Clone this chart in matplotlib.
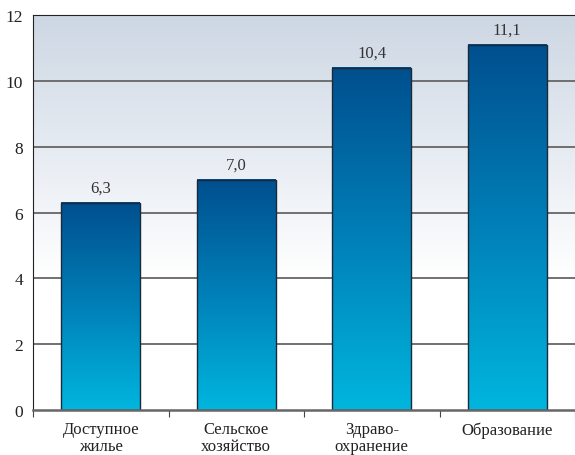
import matplotlib.pyplot as plt
import numpy as np
from matplotlib.colors import LinearSegmentedColormap

plt.rcParams["font.family"] = ["Liberation Serif", "DejaVu Serif"]

categories = ["Доступное\nжилье", "Сельское\nхозяйство", "Здраво-\nохранение", "Образование"]
values = [6.3, 7.0, 10.4, 11.1]
value_labels = ["6,3", "7,0", "10,4", "11,1"]
yticks = [0, 2, 4, 6, 8, 10, 12]

bar_cmap = LinearSegmentedColormap.from_list("bar", ["#00b6de", "#0080b8", "#004f8e"])
bg_cmap = LinearSegmentedColormap.from_list("bg", ["#ffffff", "#ffffff", "#e6ebf2", "#cdd7e3"])

fig = plt.figure(figsize=(5.75, 4.56), dpi=100)
ax = fig.add_axes([33 / 575, 1 - 411 / 456, 1 - 33 / 575, (411 - 16) / 456])

x = np.arange(len(categories))
width = 0.58

# background gradient
grad = np.linspace(0, 1, 256).reshape(-1, 1)
ax.imshow(grad, cmap=bg_cmap, origin="lower", aspect="auto",
          extent=[-0.5, len(categories) - 0.5, 0, 12], zorder=0)

for yv in yticks[1:-1]:
    ax.axhline(yv, color="#666666", lw=1.3, zorder=1)

for xi, v, lab in zip(x, values, value_labels):
    ax.imshow(grad, cmap=bar_cmap, origin="lower", aspect="auto",
              extent=[xi - width / 2, xi + width / 2, 0, v], zorder=2)
    ax.text(xi, v + 0.22, lab, ha="center", va="bottom", fontsize=12, color="#333333", zorder=4)
ax.bar(x, values, width=width, facecolor="none", edgecolor="#1a2a3a", lw=1.0, zorder=3)

ax.set_xlim(-0.5, len(categories) - 0.5)
ax.set_ylim(0, 12)
ax.set_yticks(yticks)
ax.tick_params(axis="y", length=0, labelsize=12.5, pad=7, labelcolor="#222222")

ax.set_xticks(np.arange(-0.5, len(categories) - 0.4, 1))
ax.set_xticklabels([])
ax.set_xticks(x, minor=True)
ax.set_xticklabels(categories, minor=True, fontsize=12, color="#222222", linespacing=1.1)
ax.tick_params(axis="x", which="major", length=5, color="#444444", direction="out")
ax.tick_params(axis="x", which="minor", length=0, pad=8)

ax.spines["right"].set_visible(False)
ax.spines["top"].set_color("#222222")
ax.spines["left"].set_color("#222222")
ax.spines["bottom"].set_color("#666666")
ax.spines["bottom"].set_linewidth(1.8)
ax.spines["bottom"].set_zorder(5)

fig.savefig("out.png", dpi=100)
